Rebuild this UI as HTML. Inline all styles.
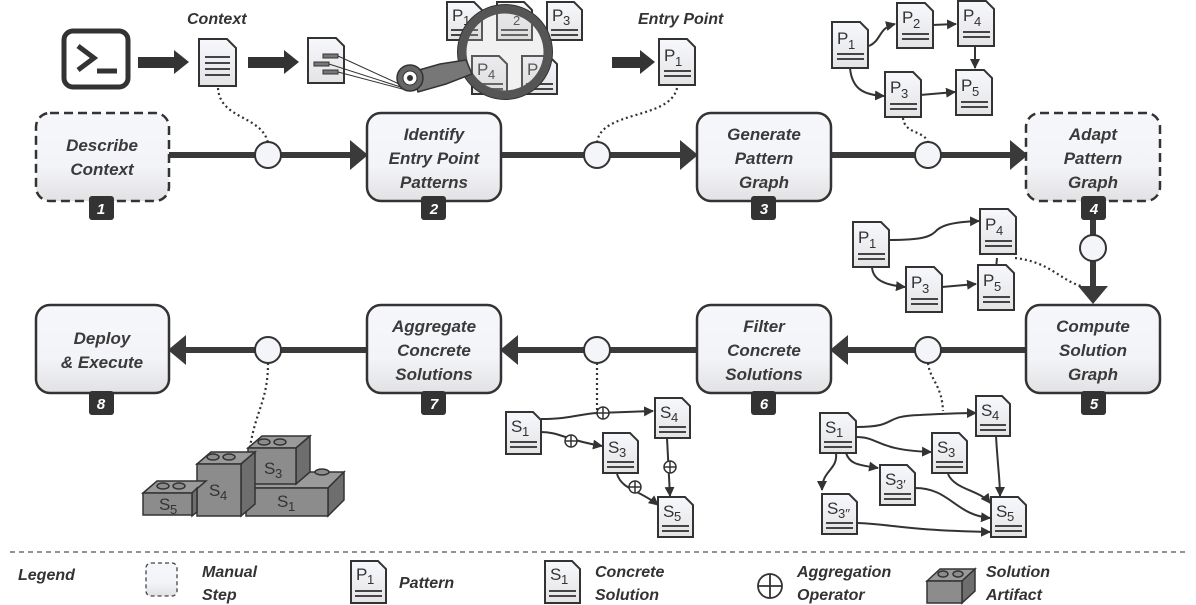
<!DOCTYPE html>
<html><head><meta charset="utf-8"><style>
html,body{margin:0;padding:0;background:#fff;}
svg{display:block;font-family:"Liberation Sans",sans-serif;}
.lb{font-style:italic;font-weight:bold;font-size:17px;fill:#3a3a3a;text-anchor:middle;}
.dl{font-size:17px;fill:#333;}
.ds{font-size:13px;fill:#333;transform:translateX(2px);}
.num{font-style:italic;font-weight:bold;font-size:15px;fill:#fff;text-anchor:middle;}
.lg{font-style:italic;font-weight:bold;font-size:16px;fill:#333;}
g[stroke="#555"]{stroke:#444;stroke-width:2;}
.lego rect,.lego ellipse{fill:#8c8c8c;}
</style></head><body>
<svg width="1196" height="605" viewBox="0 0 1196 605" xmlns="http://www.w3.org/2000/svg">
<defs>
<linearGradient id="bg" x1="0" y1="0" x2="0" y2="1"><stop offset="0" stop-color="#f6f7fb"/><stop offset="0.6" stop-color="#f3f4f8"/><stop offset="1" stop-color="#e2e2e4"/></linearGradient>
<linearGradient id="dg" x1="0" y1="0" x2="0" y2="1"><stop offset="0" stop-color="#f7f8fc"/><stop offset="1" stop-color="#e4e4e6"/></linearGradient>
<marker id="ar" markerWidth="10" markerHeight="10" refX="9" refY="5" orient="auto" markerUnits="userSpaceOnUse"><path d="M0 0 L10 5 L0 10 Z" fill="#333"/></marker>
</defs>

<g stroke="#3a3a3a" stroke-width="6" fill="none">
<line x1="168" y1="155" x2="352" y2="155"/>
<line x1="501" y1="155" x2="682" y2="155"/>
<line x1="831" y1="155" x2="1012" y2="155"/>
<line x1="185" y1="350" x2="367" y2="350"/>
<line x1="516" y1="350" x2="697" y2="350"/>
<line x1="846" y1="350" x2="1026" y2="350"/>
<line x1="1093" y1="215" x2="1093" y2="288"/>
</g>
<g fill="#3a3a3a">
<path d="M350 140 L368 155 L350 170 Z"/>
<path d="M680 140 L698 155 L680 170 Z"/>
<path d="M1010 140 L1028 155 L1010 170 Z"/>
<path d="M186 335 L168 350 L186 365 Z"/>
<path d="M518 335 L500 350 L518 365 Z"/>
<path d="M848 335 L830 350 L848 365 Z"/>
<path d="M1078 286 L1093 304 L1108 286 Z"/>
</g>

<g stroke="#333" stroke-width="2.2" stroke-dasharray="2,3" fill="none">
<path d="M218 88 C220 120 262 115 268 143"/>
<path d="M677 88 C670 120 600 110 597 143"/>
<path d="M903 118 C905 135 925 130 928 143"/>
<path d="M1015 258 C1050 262 1060 280 1081 286"/>
<path d="M928 363 C930 380 942 385 943 411"/>
<path d="M597 363 L597 410"/>
<path d="M268 363 C268 400 256 410 250 447"/>
</g>

<g fill="#f4f5f9" stroke="#333" stroke-width="2">
<circle cx="268" cy="155" r="13"/><circle cx="597" cy="155" r="13"/><circle cx="928" cy="155" r="13"/>
<circle cx="268" cy="350" r="13"/><circle cx="597" cy="350" r="13"/><circle cx="928" cy="350" r="13"/>
<circle cx="1093" cy="248" r="13"/>
</g>

<g stroke="#333" stroke-width="2.5" fill="url(#bg)">
<rect x="36" y="113" width="133" height="88" rx="14" stroke-dasharray="9,5"/>
<rect x="367" y="113" width="134" height="88" rx="14"/>
<rect x="697" y="113" width="134" height="88" rx="14"/>
<rect x="1026" y="113" width="134" height="88" rx="14" stroke-dasharray="9,5"/>
<rect x="36" y="305" width="133" height="88" rx="14"/>
<rect x="367" y="305" width="134" height="88" rx="14"/>
<rect x="697" y="305" width="134" height="88" rx="14"/>
<rect x="1026" y="305" width="134" height="88" rx="14"/>
</g>
<g class="lb">
<text x="102" y="151">Describe</text><text x="102" y="175">Context</text>
<text x="434" y="140">Identify</text><text x="434" y="164">Entry Point</text><text x="434" y="188">Patterns</text>
<text x="764" y="140">Generate</text><text x="764" y="164">Pattern</text><text x="764" y="188">Graph</text>
<text x="1093" y="140">Adapt</text><text x="1093" y="164">Pattern</text><text x="1093" y="188">Graph</text>
<text x="102" y="344">Deploy</text><text x="102" y="368">&amp; Execute</text>
<text x="434" y="332">Aggregate</text><text x="434" y="356">Concrete</text><text x="434" y="380">Solutions</text>
<text x="764" y="332">Filter</text><text x="764" y="356">Concrete</text><text x="764" y="380">Solutions</text>
<text x="1093" y="332">Compute</text><text x="1093" y="356">Solution</text><text x="1093" y="380">Graph</text>
</g>
<g fill="#333">
<rect x="89" y="196" width="25" height="24" rx="3"/><rect x="421" y="196" width="25" height="24" rx="3"/>
<rect x="751" y="196" width="25" height="24" rx="3"/><rect x="1081" y="196" width="25" height="24" rx="3"/>
<rect x="89" y="391" width="25" height="24" rx="3"/><rect x="421" y="391" width="25" height="24" rx="3"/>
<rect x="751" y="391" width="25" height="24" rx="3"/><rect x="1081" y="391" width="25" height="24" rx="3"/>
</g>
<g class="num">
<text x="101" y="214">1</text><text x="434" y="214">2</text><text x="764" y="214">3</text><text x="1094" y="214">4</text>
<text x="101" y="409">8</text><text x="434" y="409">7</text><text x="764" y="409">6</text><text x="1094" y="409">5</text>
</g>

<rect x="64" y="31" width="64" height="56" rx="9" fill="none" stroke="#333" stroke-width="5"/>
<path d="M78 46 L94 58 L78 70" fill="none" stroke="#333" stroke-width="5"/>
<line x1="97" y1="71" x2="117" y2="71" stroke="#333" stroke-width="5"/>
<g fill="#333">
<rect x="138" y="57" width="38" height="11"/><path d="M174 50 L189 62 L174 74 Z"/>
<rect x="248" y="57" width="38" height="11"/><path d="M284 50 L299 62 L284 74 Z"/>
<rect x="612" y="57" width="30" height="11"/><path d="M640 50 L655 62 L640 74 Z"/>
</g>
<text class="lg" x="187" y="24">Context</text>
<text class="lg" x="638" y="24">Entry Point</text>
<g transform="translate(199,39)"><path d="M0 0 H28 L37 9 V47 H0 Z" fill="url(#dg)" stroke="#333" stroke-width="2"/>
<g stroke="#555" stroke-width="1.5"><line x1="6" y1="18" x2="31" y2="18"/><line x1="6" y1="24" x2="31" y2="24"/><line x1="6" y1="30" x2="31" y2="30"/><line x1="6" y1="36" x2="31" y2="36"/></g></g>
<g transform="translate(308,38)"><path d="M0 0 H28 L36 8 V45 H0 Z" fill="url(#dg)" stroke="#333" stroke-width="2"/>
<g stroke="#333" stroke-width="1"><rect x="15" y="16" width="15" height="4" fill="#777"/><rect x="6" y="24" width="15" height="4" fill="#777"/><rect x="15" y="32" width="15" height="4" fill="#777"/>
<line x1="30" y1="18" x2="102" y2="51"/><line x1="21" y1="26" x2="102" y2="52"/><line x1="30" y1="34" x2="102" y2="53"/></g></g>
<g transform="translate(447,2)"><path d="M0 0 H27 L35 8 V38 H0 Z" fill="url(#dg)" stroke="#333" stroke-width="2"/><text class="dl" x="5" y="19">P</text><text class="ds" x="14" y="23">1</text><g stroke="#555" stroke-width="1.5"><line x1="4" y1="28" x2="31" y2="28"/><line x1="4" y1="33" x2="31" y2="33"/></g></g>
<g transform="translate(497,2)"><path d="M0 0 H27 L35 8 V38 H0 Z" fill="url(#dg)" stroke="#333" stroke-width="2"/><text class="ds" x="14" y="23">2</text><g stroke="#555" stroke-width="1.5"><line x1="4" y1="28" x2="31" y2="28"/><line x1="4" y1="33" x2="31" y2="33"/></g></g>
<g transform="translate(547,2)"><path d="M0 0 H27 L35 8 V38 H0 Z" fill="url(#dg)" stroke="#333" stroke-width="2"/><text class="dl" x="5" y="19">P</text><text class="ds" x="14" y="23">3</text><g stroke="#555" stroke-width="1.5"><line x1="4" y1="28" x2="31" y2="28"/><line x1="4" y1="33" x2="31" y2="33"/></g></g>
<g transform="translate(472,56)"><path d="M0 0 H27 L35 8 V38 H0 Z" fill="url(#dg)" stroke="#333" stroke-width="2"/><text class="dl" x="5" y="19">P</text><text class="ds" x="14" y="23">4</text><g stroke="#555" stroke-width="1.5"><line x1="4" y1="28" x2="31" y2="28"/><line x1="4" y1="33" x2="31" y2="33"/></g></g>
<g transform="translate(522,56)"><path d="M0 0 H27 L35 8 V38 H0 Z" fill="url(#dg)" stroke="#333" stroke-width="2"/><text class="dl" x="5" y="19">P</text><g stroke="#555" stroke-width="1.5"><line x1="4" y1="28" x2="31" y2="28"/><line x1="4" y1="33" x2="31" y2="33"/></g></g>
<circle cx="505" cy="52" r="43" fill="rgba(200,200,200,0.25)" stroke="#555" stroke-width="9"/>
<circle cx="505" cy="52" r="47.5" fill="none" stroke="#333" stroke-width="1"/>
<path d="M412 72 L440 64 L466 60 L472 74 L446 84 L418 92 Z" fill="#777" stroke="#333" stroke-width="1.5"/>
<circle cx="410" cy="78" r="13" fill="#666" stroke="#333" stroke-width="1.5"/>
<circle cx="410" cy="78" r="7" fill="#fff" stroke="#333" stroke-width="1"/>
<circle cx="410" cy="78" r="3" fill="#333"/>

<g transform="translate(659,39)"><path d="M0 0 H28 L36 8 V46 H0 Z" fill="url(#dg)" stroke="#333" stroke-width="2"/><text class="dl" x="5" y="22">P</text><text class="ds" x="14" y="27">1</text><g stroke="#555" stroke-width="1.5"><line x1="5" y1="32" x2="32" y2="32"/><line x1="5" y1="37" x2="32" y2="37"/></g></g>

<g stroke="#333" stroke-width="2" fill="none" marker-end="url(#ar)">
<path d="M869 46 C882 40 878 28 895 24"/>
<path d="M932 25 L956 24"/>
<path d="M975 46 L975 68"/>
<path d="M850 68 C852 90 865 95 884 96"/>
<path d="M920 95 L955 92"/>
</g>
<g transform="translate(832,22)"><path d="M0 0 H28 L36 8 V46 H0 Z" fill="url(#dg)" stroke="#333" stroke-width="2"/><text class="dl" x="5" y="22">P</text><text class="ds" x="14" y="27">1</text><g stroke="#555" stroke-width="1.5"><line x1="5" y1="32" x2="32" y2="32"/><line x1="5" y1="37" x2="32" y2="37"/></g></g>
<g transform="translate(897,3)"><path d="M0 0 H28 L36 8 V45 H0 Z" fill="url(#dg)" stroke="#333" stroke-width="2"/><text class="dl" x="5" y="20">P</text><text class="ds" x="14" y="25">2</text><g stroke="#555" stroke-width="1.5"><line x1="5" y1="31" x2="32" y2="31"/><line x1="5" y1="36" x2="32" y2="36"/></g></g>
<g transform="translate(958,1)"><path d="M0 0 H28 L36 8 V45 H0 Z" fill="url(#dg)" stroke="#333" stroke-width="2"/><text class="dl" x="5" y="20">P</text><text class="ds" x="14" y="25">4</text><g stroke="#555" stroke-width="1.5"><line x1="5" y1="31" x2="32" y2="31"/><line x1="5" y1="36" x2="32" y2="36"/></g></g>
<g transform="translate(885,72)"><path d="M0 0 H28 L36 8 V45 H0 Z" fill="url(#dg)" stroke="#333" stroke-width="2"/><text class="dl" x="5" y="21">P</text><text class="ds" x="14" y="26">3</text><g stroke="#555" stroke-width="1.5"><line x1="5" y1="32" x2="32" y2="32"/><line x1="5" y1="37" x2="32" y2="37"/></g></g>
<g transform="translate(956,70)"><path d="M0 0 H28 L36 8 V45 H0 Z" fill="url(#dg)" stroke="#333" stroke-width="2"/><text class="dl" x="5" y="21">P</text><text class="ds" x="14" y="26">5</text><g stroke="#555" stroke-width="1.5"><line x1="5" y1="32" x2="32" y2="32"/><line x1="5" y1="37" x2="32" y2="37"/></g></g>

<g stroke="#333" stroke-width="2" fill="none" marker-end="url(#ar)">
<path d="M889 240 C925 240 930 236 935 232 C940 226 950 222 979 221"/>
<path d="M997 258 L995 280"/>
<path d="M872 266 C872 280 885 285 905 287"/>
<path d="M942 287 L976 284"/>
</g>
<g transform="translate(853,222)"><path d="M0 0 H28 L36 8 V45 H0 Z" fill="url(#dg)" stroke="#333" stroke-width="2"/><text class="dl" x="5" y="21">P</text><text class="ds" x="14" y="26">1</text><g stroke="#555" stroke-width="1.5"><line x1="5" y1="32" x2="32" y2="32"/><line x1="5" y1="37" x2="32" y2="37"/></g></g>
<g transform="translate(980,209)"><path d="M0 0 H28 L36 8 V45 H0 Z" fill="url(#dg)" stroke="#333" stroke-width="2"/><text class="dl" x="5" y="21">P</text><text class="ds" x="14" y="26">4</text><g stroke="#555" stroke-width="1.5"><line x1="5" y1="32" x2="32" y2="32"/><line x1="5" y1="37" x2="32" y2="37"/></g></g>
<g transform="translate(906,267)"><path d="M0 0 H28 L36 8 V45 H0 Z" fill="url(#dg)" stroke="#333" stroke-width="2"/><text class="dl" x="5" y="21">P</text><text class="ds" x="14" y="26">3</text><g stroke="#555" stroke-width="1.5"><line x1="5" y1="32" x2="32" y2="32"/><line x1="5" y1="37" x2="32" y2="37"/></g></g>
<g transform="translate(978,265)"><path d="M0 0 H28 L36 8 V45 H0 Z" fill="url(#dg)" stroke="#333" stroke-width="2"/><text class="dl" x="5" y="21">P</text><text class="ds" x="14" y="26">5</text><g stroke="#555" stroke-width="1.5"><line x1="5" y1="32" x2="32" y2="32"/><line x1="5" y1="37" x2="32" y2="37"/></g></g>

<g stroke="#333" stroke-width="2" fill="none" marker-end="url(#ar)">
<path d="M541 419 C570 419 580 414 597 413 L653 411"/>
<path d="M541 432 C560 432 565 440 602 446"/>
<path d="M667 438 L670 496"/>
<path d="M617 474 C622 490 640 490 658 505"/>
</g>
<g fill="#fff" stroke="#333" stroke-width="1.5">
<circle cx="603" cy="413" r="6"/><path d="M597 413 H609 M603 407 V419"/>
<circle cx="571" cy="441" r="6"/><path d="M565 441 H577 M571 435 V447"/>
<circle cx="670" cy="467" r="6"/><path d="M664 467 H676 M670 461 V473"/>
<circle cx="635" cy="487" r="6"/><path d="M629 487 H641 M635 481 V493"/>
</g>
<g transform="translate(506,412)"><path d="M0 0 H27 L35 8 V42 H0 Z" fill="url(#dg)" stroke="#333" stroke-width="2"/><text class="dl" x="5" y="20">S</text><text class="ds" x="14" y="24">1</text><g stroke="#555" stroke-width="1.5"><line x1="4" y1="30" x2="31" y2="30"/><line x1="4" y1="35" x2="31" y2="35"/></g></g>
<g transform="translate(655,398)"><path d="M0 0 H27 L35 8 V40 H0 Z" fill="url(#dg)" stroke="#333" stroke-width="2"/><text class="dl" x="5" y="20">S</text><text class="ds" x="14" y="24">4</text><g stroke="#555" stroke-width="1.5"><line x1="4" y1="29" x2="31" y2="29"/><line x1="4" y1="34" x2="31" y2="34"/></g></g>
<g transform="translate(603,433)"><path d="M0 0 H27 L35 8 V40 H0 Z" fill="url(#dg)" stroke="#333" stroke-width="2"/><text class="dl" x="5" y="20">S</text><text class="ds" x="14" y="24">3</text><g stroke="#555" stroke-width="1.5"><line x1="4" y1="29" x2="31" y2="29"/><line x1="4" y1="34" x2="31" y2="34"/></g></g>
<g transform="translate(658,497)"><path d="M0 0 H27 L35 8 V40 H0 Z" fill="url(#dg)" stroke="#333" stroke-width="2"/><text class="dl" x="5" y="20">S</text><text class="ds" x="14" y="24">5</text><g stroke="#555" stroke-width="1.5"><line x1="4" y1="29" x2="31" y2="29"/><line x1="4" y1="34" x2="31" y2="34"/></g></g>

<g stroke="#333" stroke-width="2" fill="none" marker-end="url(#ar)">
<path d="M856 427 C900 427 880 416 920 415 C940 414 955 413 976 413"/>
<path d="M856 437 C880 437 875 450 931 452"/>
<path d="M836 453 C838 470 822 470 822 490"/>
<path d="M846 453 C850 465 860 465 878 468"/>
<path d="M996 436 C998 470 1000 480 1000 496"/>
<path d="M948 474 C955 490 980 490 990 503"/>
<path d="M915 488 C950 488 955 515 990 518"/>
<path d="M858 523 C900 525 900 530 990 532"/>
</g>
<g transform="translate(820,413)"><path d="M0 0 H28 L36 8 V40 H0 Z" fill="url(#dg)" stroke="#333" stroke-width="2"/><text class="dl" x="5" y="20">S</text><text class="ds" x="14" y="24">1</text><g stroke="#555" stroke-width="1.5"><line x1="4" y1="29" x2="32" y2="29"/><line x1="4" y1="34" x2="32" y2="34"/></g></g>
<g transform="translate(976,396)"><path d="M0 0 H26 L34 8 V40 H0 Z" fill="url(#dg)" stroke="#333" stroke-width="2"/><text class="dl" x="5" y="20">S</text><text class="ds" x="14" y="24">4</text><g stroke="#555" stroke-width="1.5"><line x1="4" y1="29" x2="30" y2="29"/><line x1="4" y1="34" x2="30" y2="34"/></g></g>
<g transform="translate(932,433)"><path d="M0 0 H27 L35 8 V40 H0 Z" fill="url(#dg)" stroke="#333" stroke-width="2"/><text class="dl" x="5" y="20">S</text><text class="ds" x="14" y="24">3</text><g stroke="#555" stroke-width="1.5"><line x1="4" y1="29" x2="31" y2="29"/><line x1="4" y1="34" x2="31" y2="34"/></g></g>
<g transform="translate(880,465)"><path d="M0 0 H27 L35 8 V40 H0 Z" fill="url(#dg)" stroke="#333" stroke-width="2"/><text class="dl" x="5" y="20">S</text><text class="ds" x="14" y="24">3′</text><g stroke="#555" stroke-width="1.5"><line x1="4" y1="29" x2="31" y2="29"/><line x1="4" y1="34" x2="31" y2="34"/></g></g>
<g transform="translate(822,494)"><path d="M0 0 H27 L35 8 V40 H0 Z" fill="url(#dg)" stroke="#333" stroke-width="2"/><text class="dl" x="5" y="20">S</text><text class="ds" x="14" y="24">3′′</text><g stroke="#555" stroke-width="1.5"><line x1="4" y1="29" x2="31" y2="29"/><line x1="4" y1="34" x2="31" y2="34"/></g></g>
<g transform="translate(991,497)"><path d="M0 0 H27 L35 8 V40 H0 Z" fill="url(#dg)" stroke="#333" stroke-width="2"/><text class="dl" x="5" y="20">S</text><text class="ds" x="14" y="24">5</text><g stroke="#555" stroke-width="1.5"><line x1="4" y1="29" x2="31" y2="29"/><line x1="4" y1="34" x2="31" y2="34"/></g></g>

<g stroke="#333" stroke-width="1.5" class="lego">
<path d="M246 488 L262 472 L344 472 L328 488 Z" fill="#9a9a9a"/>
<path d="M328 488 L344 472 L344 500 L328 516 Z" fill="#6e6e6e"/>
<rect x="246" y="488" width="82" height="28"/>
<rect x="315" y="472" width="14" height="6" style="fill:#9a9a9a" stroke="none"/>
<ellipse cx="322" cy="472" rx="7" ry="3"/>
<path d="M248 448 L262 436 L310 436 L296 448 Z" fill="#9a9a9a"/>
<path d="M296 448 L310 436 L310 472 L296 484 Z" fill="#6e6e6e"/>
<rect x="248" y="448" width="48" height="36"/>
<ellipse cx="264" cy="442" rx="6" ry="3"/><ellipse cx="280" cy="442" rx="6" ry="3"/>
<path d="M197 464 L211 452 L255 452 L241 464 Z" fill="#9a9a9a"/>
<path d="M241 464 L255 452 L255 504 L241 516 Z" fill="#6e6e6e"/>
<rect x="197" y="464" width="44" height="52"/>
<ellipse cx="213" cy="457" rx="6" ry="3"/><ellipse cx="229" cy="457" rx="6" ry="3"/>
<path d="M143 493 L157 481 L206 481 L192 493 Z" fill="#9a9a9a"/>
<path d="M192 493 L197 488 L197 512 L192 516 Z" fill="#6e6e6e"/>
<rect x="143" y="493" width="49" height="22"/>
<ellipse cx="163" cy="486" rx="6" ry="3"/><ellipse cx="179" cy="486" rx="6" ry="3"/>
</g>
<g fill="#333">
<text class="dl" x="159" y="510">S</text><text class="ds" x="168" y="514">5</text>
<text class="dl" x="209" y="496">S</text><text class="ds" x="218" y="500">4</text>
<text class="dl" x="264" y="474">S</text><text class="ds" x="273" y="478">3</text>
<text class="dl" x="277" y="507">S</text><text class="ds" x="286" y="511">1</text>
</g>

<line x1="10" y1="552" x2="1186" y2="552" stroke="#555" stroke-width="1.3" stroke-dasharray="5,4"/>
<text class="lg" x="18" y="580">Legend</text>
<rect x="146" y="563" width="31" height="33" rx="5" fill="url(#bg)" stroke="#444" stroke-width="1.3" stroke-dasharray="4,3"/>
<text class="lg" x="202" y="577">Manual</text><text class="lg" x="202" y="600">Step</text>
<g transform="translate(351,561)"><path d="M0 0 H27 L35 8 V42 H0 Z" fill="url(#dg)" stroke="#333" stroke-width="2"/><text class="dl" x="5" y="19">P</text><text class="ds" x="14" y="23">1</text><g stroke="#555" stroke-width="1.5"><line x1="4" y1="30" x2="31" y2="30"/><line x1="4" y1="35" x2="31" y2="35"/></g></g>
<text class="lg" x="399" y="588">Pattern</text>
<g transform="translate(545,561)"><path d="M0 0 H27 L35 8 V42 H0 Z" fill="url(#dg)" stroke="#333" stroke-width="2"/><text class="dl" x="5" y="19">S</text><text class="ds" x="14" y="23">1</text><g stroke="#555" stroke-width="1.5"><line x1="4" y1="30" x2="31" y2="30"/><line x1="4" y1="35" x2="31" y2="35"/></g></g>
<text class="lg" x="595" y="577">Concrete</text><text class="lg" x="595" y="600">Solution</text>
<circle cx="770" cy="586" r="12" fill="none" stroke="#333" stroke-width="1.8"/>
<path d="M758 586 H782 M770 574 V598" stroke="#333" stroke-width="1.8"/>
<text class="lg" x="797" y="577">Aggregation</text><text class="lg" x="797" y="600">Operator</text>
<g stroke="#333" stroke-width="1.5" class="lego">
<path d="M927 581 L940 569 L975 569 L962 581 Z" fill="#9a9a9a"/>
<path d="M962 581 L975 569 L975 591 L962 603 Z" fill="#6e6e6e"/>
<rect x="927" y="581" width="35" height="22"/>
<ellipse cx="943" cy="574" rx="5" ry="3"/><ellipse cx="958" cy="574" rx="5" ry="3"/>
</g>
<text class="lg" x="986" y="577">Solution</text><text class="lg" x="986" y="600">Artifact</text>
</svg>
</body></html>
